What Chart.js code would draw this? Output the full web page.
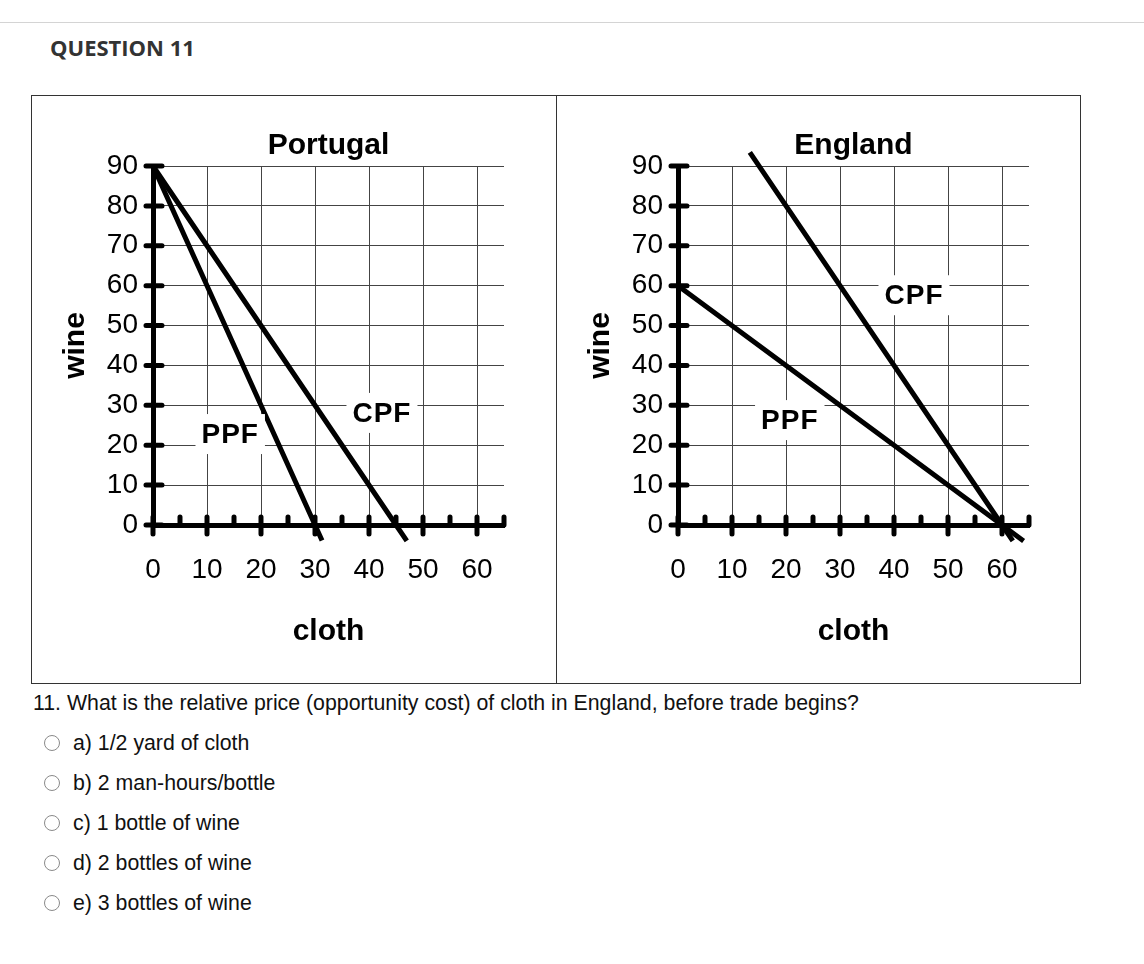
<!DOCTYPE html>
<html>
<head>
<meta charset="utf-8">
<script src="https://cdn.jsdelivr.net/npm/chart.js@4.4.1/dist/chart.umd.min.js"></script>
<style>
  html, body { margin: 0; padding: 0; background: #fff; }
  body { width: 1144px; height: 964px; position: relative; overflow: hidden;
         font-family: 'Liberation Sans', Arial, sans-serif; color: #111; }
  .rule { position: absolute; left: 0; top: 22px; width: 1144px; height: 1px; background: #d4d4d4; }
  .qtitle { position: absolute; left: 50px; top: 33px; font: bold 22px/28px 'Open Sans', sans-serif; color: #333; }
  .frame { position: absolute; left: 31px; top: 95px; width: 1050px; height: 589px;
           box-sizing: border-box; border: 1px solid #333; }
  .divider { position: absolute; left: 556px; top: 95px; width: 1px; height: 589px; background: #333; }
  .panel { position: absolute; top: 95px; width: 525px; height: 588px; }
  .question { position: absolute; left: 33px; top: 692px; font-size: 21.3px; line-height: 22px; }
  .opt { position: absolute; left: 73px; font-size: 21.3px; line-height: 22px; }
  .radio { position: absolute; left: 44px; width: 16px; height: 16px; box-sizing: border-box;
           border: 1.5px solid #8a8a8a; border-radius: 50%; }
</style>
</head>
<body>
<div class="rule"></div>
<div class="qtitle">QUESTION 11</div>
<div class="frame"></div>
<div class="divider"></div>
<div class="panel" style="left:31px"><canvas id="portugal" width="525" height="588"></canvas></div>
<div class="panel" style="left:556px"><canvas id="england" width="525" height="588"></canvas></div>

<div class="question">11. What is the relative price (opportunity cost) of cloth in England, before trade begins?</div>
<div class="radio" style="top:735px"></div><div class="opt" style="top:732px">a) 1/2 yard of cloth</div>
<div class="radio" style="top:775px"></div><div class="opt" style="top:772px">b) 2 man-hours/bottle</div>
<div class="radio" style="top:815px"></div><div class="opt" style="top:812px">c) 1 bottle of wine</div>
<div class="radio" style="top:855px"></div><div class="opt" style="top:852px">d) 2 bottles of wine</div>
<div class="radio" style="top:895px"></div><div class="opt" style="top:892px">e) 3 bottles of wine</div>

<script>
// tick labels
const clothTicks = [0, 10, 20, 30, 40, 50, 60];
const wineTicks = [0, 10, 20, 30, 40, 50, 60, 70, 80, 90];

// Portugal (lines run a little past the cloth axis, as drawn)
const portugalPpfCloth = [0, 30, 31.3];
const portugalPpfWine = [90, 0, -3.9];
const portugalCpfCloth = [0, 45, 47];
const portugalCpfWine = [90, 0, -4];

// England
const englandPpfCloth = [0, 60, 64];
const englandPpfWine = [60, 0, -4];
const englandCpfCloth = [13.3, 60, 62];
const englandCpfWine = [93.4, 0, -4];

Chart.defaults.font.family = "'Liberation Sans', Arial, sans-serif";
Chart.defaults.color = '#000';

const toPoints = (xs, ys) => xs.map((v, i) => ({ x: v, y: ys[i] }));

// thick tick marks that cross the axis lines
const axisTicks = {
  id: 'axisTicks',
  beforeDatasetsDraw(chart) {
    const { ctx, scales: { x, y } } = chart;
    const x0 = x.getPixelForValue(0), y0 = y.getPixelForValue(0);
    ctx.save();
    ctx.strokeStyle = '#000';
    ctx.lineWidth = 5;
    ctx.lineCap = 'round';
    ctx.beginPath();
    y.ticks.forEach(t => {
      const p = y.getPixelForValue(t.value);
      ctx.moveTo(x0 - 7, p);
      ctx.lineTo(x0 + 9, p);
    });
    x.ticks.forEach(t => {
      const p = x.getPixelForValue(t.value);
      const major = clothTicks.includes(t.value);
      ctx.moveTo(p, y0 - 8);
      ctx.lineTo(p, major ? y0 + 9 : y0);
    });
    ctx.stroke();
    ctx.restore();
  }
};

// PPF / CPF labels with white box behind
const curveLabels = {
  id: 'curveLabels',
  afterDatasetsDraw(chart, args, opts) {
    const { ctx, scales: { x, y } } = chart;
    ctx.save();
    ctx.font = "bold 28px 'Liberation Sans', Arial, sans-serif";
    ctx.letterSpacing = '1px';
    ctx.textAlign = 'center';
    ctx.textBaseline = 'middle';
    opts.items.forEach(it => {
      const px = x.getPixelForValue(it.x), py = y.getPixelForValue(it.y);
      const w = ctx.measureText(it.text).width;
      ctx.fillStyle = '#fff';
      ctx.fillRect(px - w / 2 - 6, py - 20, w + 12, 40);
      ctx.fillStyle = '#000';
      ctx.fillText(it.text, px, py + 1);
    });
    ctx.restore();
  }
};

function lineSet(xs, ys) {
  return {
    data: toPoints(xs, ys),
    borderColor: '#000',
    borderWidth: 5,
    borderCapStyle: 'butt',
    pointRadius: 0,
    clip: false,
    tension: 0
  };
}

function makePanel(id, country, sets, labels) {
  return new Chart(document.getElementById(id), {
    type: 'line',
    data: { datasets: sets },
    plugins: [axisTicks, curveLabels],
    options: {
      responsive: false,
      animation: false,
      events: [],
      layout: { padding: { left: 0, right: 52, top: 0, bottom: 0 } },
      plugins: {
        legend: { display: false },
        tooltip: { enabled: false },
        title: {
          display: true,
          text: country,
          fullSize: false,
          color: '#000',
          font: { size: 30, weight: 'bold' },
          padding: { top: 33, bottom: 2 }
        },
        curveLabels: { items: labels }
      },
      scales: {
        x: {
          type: 'linear',
          min: 0,
          max: 65,
          afterFit: s => { s.height = 158; },
          ticks: {
            stepSize: 5,
            padding: 28,
            autoSkip: false,
            maxRotation: 0,
            font: { size: 28 },
            color: '#000',
            callback: v => clothTicks.includes(v) ? String(v) : ''
          },
          grid: {
            drawTicks: false,
            lineWidth: 1,
            color: c => (c.tick && clothTicks.includes(c.tick.value) && c.tick.value > 0) ? '#444' : 'rgba(0,0,0,0)'
          },
          border: { display: true, color: '#000', width: 5 },
          title: {
            display: true,
            text: 'cloth',
            color: '#000',
            font: { size: 30, weight: 'bold' },
            padding: { top: 0, bottom: 33 }
          }
        },
        y: {
          type: 'linear',
          min: 0,
          max: 90,
          afterFit: s => { s.width = 122; },
          afterBuildTicks: s => { s.ticks = wineTicks.map(v => ({ value: v })); },
          ticks: {
            padding: 15,
            font: { size: 28 },
            color: '#000',
            callback: v => String(v)
          },
          grid: {
            drawTicks: false,
            lineWidth: 1,
            color: '#444'
          },
          border: { display: true, color: '#000', width: 5 },
          title: {
            display: true,
            text: 'wine',
            color: '#000',
            font: { size: 30, weight: 'bold' },
            padding: { top: 27, bottom: 0 }
          }
        }
      }
    }
  });
}

makePanel('portugal', 'Portugal',
  [lineSet(portugalPpfCloth, portugalPpfWine), lineSet(portugalCpfCloth, portugalCpfWine)],
  [{ text: 'PPF', x: 14.3, y: 22.8 }, { text: 'CPF', x: 42.4, y: 28.1 }]);

makePanel('england', 'England',
  [lineSet(englandPpfCloth, englandPpfWine), lineSet(englandCpfCloth, englandCpfWine)],
  [{ text: 'PPF', x: 20.7, y: 26.3 }, { text: 'CPF', x: 43.7, y: 57.6 }]);
</script>
</body>
</html>
